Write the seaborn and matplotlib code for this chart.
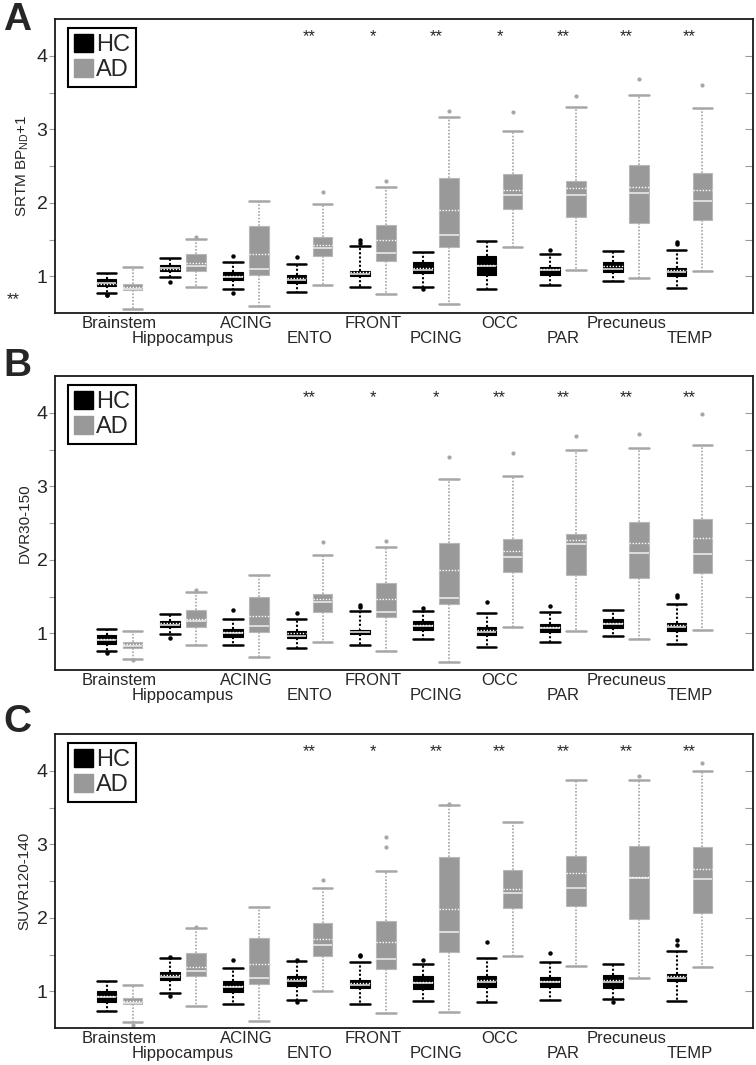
import matplotlib

matplotlib.use("Agg")

import matplotlib.pyplot as plt
from matplotlib.patches import Patch
import seaborn as sns


sns.set_style("white")
plt.rcParams["font.family"] = ["Liberation Sans", "DejaVu Sans"]
plt.rcParams["mathtext.fontset"] = "custom"
plt.rcParams["mathtext.rm"] = "Liberation Sans"
plt.rcParams["mathtext.it"] = "Liberation Sans:italic"

REGIONS = ["Brainstem", "Hippocampus", "ACING", "ENTO", "FRONT",
           "PCING", "OCC", "PAR", "Precuneus", "TEMP"]

# each row: (whisker low, q1, median, mean, q3, whisker high)
SRTM_HC = [(0.77, 0.87, 0.91, 0.89, 0.965, 1.045),
           (0.985, 1.075, 1.11, 1.10, 1.15, 1.25),
           (0.82, 0.945, 0.99, 1.01, 1.055, 1.20),
           (0.78, 0.91, 0.955, 0.975, 1.02, 1.17),
           (0.855, 1.01, 1.03, 1.055, 1.07, 1.41),
           (0.86, 1.045, 1.08, 1.11, 1.19, 1.33),
           (0.83, 1.02, 1.136, 1.16, 1.277, 1.48),
           (0.886, 1.018, 1.08, 1.10, 1.13, 1.30),
           (0.93, 1.055, 1.10, 1.136, 1.19, 1.35),
           (0.836, 1.01, 1.055, 1.09, 1.114, 1.355)]
SRTM_HC_FLIERS = [[0.75, 0.745], [0.92], [1.28, 0.77], [1.26], [1.50, 1.45],
                  [0.83], [], [1.36], [], [1.46, 1.445]]
SRTM_AD = [(0.555, 0.81, 0.82, 0.855, 0.895, 1.12),
           (0.855, 1.07, 1.135, 1.18, 1.305, 1.51),
           (0.59, 1.02, 1.10, 1.30, 1.68, 2.02),
           (0.886, 1.28, 1.386, 1.43, 1.536, 1.98),
           (0.755, 1.205, 1.31, 1.49, 1.695, 2.22),
           (0.627, 1.40, 1.565, 1.90, 2.34, 3.17),
           (1.40, 1.92, 2.11, 2.18, 2.386, 2.97),
           (1.08, 1.81, 2.10, 2.195, 2.30, 3.30),
           (0.977, 1.72, 2.136, 2.21, 2.52, 3.46),
           (1.07, 1.77, 2.02, 2.18, 2.41, 3.295)]
SRTM_AD_FLIERS = [[], [1.54], [], [2.14], [2.30], [3.25], [3.236], [3.45],
                  [3.69], [3.60]]

DVR_HC = [(0.76, 0.86, 0.91, 0.927, 0.97, 1.055),
          (0.986, 1.08, 1.11, 1.136, 1.16, 1.264),
          (0.84, 0.955, 1.00, 1.02, 1.055, 1.20),
          (0.795, 0.93, 0.968, 1.00, 1.03, 1.195),
          (0.84, 0.995, 1.02, 1.07, 1.05, 1.305),
          (0.918, 1.045, 1.10, 1.11, 1.16, 1.305),
          (0.818, 0.977, 1.023, 1.045, 1.09, 1.277),
          (0.88, 1.014, 1.068, 1.08, 1.127, 1.29),
          (0.964, 1.068, 1.127, 1.145, 1.20, 1.31),
          (0.855, 1.036, 1.08, 1.114, 1.145, 1.40)]
DVR_HC_FLIERS = [[0.736], [0.93], [1.31], [1.28], [1.386, 1.355], [1.35],
                 [1.43], [1.373], [], [1.52, 1.49]]
DVR_AD = [(0.65, 0.80, 0.827, 0.855, 0.886, 1.036),
          (0.84, 1.09, 1.16, 1.19, 1.318, 1.555),
          (0.68, 1.02, 1.10, 1.24, 1.49, 1.795),
          (0.877, 1.295, 1.43, 1.46, 1.53, 2.06),
          (0.764, 1.218, 1.295, 1.47, 1.68, 2.18),
          (0.61, 1.395, 1.486, 1.855, 2.227, 3.10),
          (1.09, 1.83, 2.036, 2.12, 2.28, 3.145),
          (1.036, 1.786, 2.21, 2.264, 2.355, 3.50),
          (0.927, 1.755, 2.09, 2.227, 2.51, 3.52),
          (1.045, 1.818, 2.077, 2.295, 2.555, 3.56)]
DVR_AD_FLIERS = [[0.636], [1.59], [], [2.236], [2.26], [3.40], [3.45], [3.68],
                 [3.71], [3.98]]

SUVR_HC = [(0.736, 0.86, 0.927, 0.94, 1.00, 1.136),
           (0.977, 1.155, 1.20, 1.227, 1.26, 1.45),
           (0.827, 0.995, 1.064, 1.077, 1.136, 1.32),
           (0.886, 1.077, 1.145, 1.168, 1.214, 1.41),
           (0.827, 1.045, 1.09, 1.11, 1.155, 1.405),
           (0.87, 1.03, 1.118, 1.13, 1.214, 1.377),
           (0.85, 1.064, 1.123, 1.155, 1.214, 1.455),
           (0.88, 1.055, 1.123, 1.145, 1.20, 1.395),
           (0.895, 1.045, 1.123, 1.155, 1.227, 1.377),
           (0.873, 1.136, 1.177, 1.214, 1.236, 1.545)]
SUVR_HC_FLIERS = [[], [1.46, 0.94], [1.42], [1.427, 0.85], [1.50, 1.477],
                  [1.43], [1.67], [1.52], [0.86], [1.70, 1.636]]
SUVR_AD = [(0.577, 0.827, 0.836, 0.873, 0.91, 1.09),
           (0.80, 1.214, 1.273, 1.327, 1.52, 1.86),
           (0.59, 1.10, 1.177, 1.373, 1.727, 2.145),
           (1.01, 1.486, 1.63, 1.705, 1.927, 2.40),
           (0.705, 1.305, 1.44, 1.673, 1.95, 2.64),
           (0.714, 1.53, 1.81, 2.123, 2.827, 3.53),
           (1.48, 2.127, 2.34, 2.395, 2.645, 3.30),
           (1.34, 2.164, 2.40, 2.61, 2.845, 3.87),
           (1.18, 1.986, 2.54, 2.555, 2.98, 3.877),
           (1.336, 2.07, 2.527, 2.66, 2.97, 4.00)]
SUVR_AD_FLIERS = [[0.545], [1.873], [], [2.52], [3.10, 2.97], [3.55], [], [],
                  [3.93], [4.11]]

STARS_A = ["", "", "", "**", "*", "**", "*", "**", "**", "**"]
STARS_B = ["", "", "", "**", "*", "*", "**", "**", "**", "**"]
STARS_C = ["", "", "", "**", "*", "**", "**", "**", "**", "**"]

PANEL_LETTERS = ["A", "B", "C"]
Y_LABELS = ["SRTM BP$_{\\mathrm{ND}}$+1", "DVR30-150", "SUVR120-140"]

HC_COLOR = "black"
AD_COLOR = "#999999"


def to_stats(rows, fliers):
    return [dict(whislo=r[0], q1=r[1], med=r[2], mean=r[3], q3=r[4],
                 whishi=r[5], fliers=f) for r, f in zip(rows, fliers)]


def draw_group(ax, rows, fliers, offset, face, edge, line, lw_whisk, msize):
    positions = [i + offset for i in range(len(rows))]
    ax.bxp(
        to_stats(rows, fliers),
        positions=positions,
        widths=0.31,
        capwidths=0.31,
        patch_artist=True,
        showmeans=True,
        meanline=True,
        manage_ticks=False,
        boxprops=dict(facecolor=face, edgecolor=edge, linewidth=0.8),
        medianprops=dict(color="#f0f0f0", linewidth=1.1),
        meanprops=dict(color="white", linestyle=(0, (1, 1.2)), linewidth=1.0),
        whiskerprops=dict(color=line, linestyle=(0, (1, 1)), linewidth=lw_whisk),
        capprops=dict(color=line, linewidth=1.8),
        flierprops=dict(marker="o", markersize=msize, markerfacecolor=line,
                        markeredgecolor=line),
    )


def draw_panel(ax, hc, hc_fliers, ad, ad_fliers, stars, ylabel, star_y):
    draw_group(ax, hc, hc_fliers, -0.205, HC_COLOR, HC_COLOR, HC_COLOR, 1.5, 2.2)
    draw_group(ax, ad, ad_fliers, 0.205, AD_COLOR, "#b8b8b8", "#a6a6a6", 1.2, 2.0)

    ax.set_xlim(-1.02, 10.0)
    ax.set_ylim(0.5, 4.5)

    ax.set_yticks([1, 2, 3, 4])
    ax.set_yticks([1.5, 2.5, 3.5], minor=True)
    ax.tick_params(axis="y", which="both", left=True, direction="out",
                   length=4.5, width=0.8, color="#9a9a9a", pad=1,
                   labelsize=14)
    right = ax.secondary_yaxis("right")
    right.set_yticks([1, 1.5, 2, 2.5, 3, 3.5, 4])
    right.tick_params(axis="y", which="both", right=True, direction="in",
                      length=6, width=0.8, color="#9a9a9a", labelright=False)
    right.spines["right"].set_visible(False)

    ax.set_xticks(range(0, 10, 2), labels=REGIONS[0::2])
    ax.set_xticks(range(1, 10, 2), labels=REGIONS[1::2], minor=True)
    ax.tick_params(axis="x", which="both", length=0, labelsize=12)
    ax.tick_params(axis="x", which="major", pad=2)
    ax.tick_params(axis="x", which="minor", pad=13)

    for spine in ax.spines.values():
        spine.set_visible(True)
        spine.set_color("#1a1a1a")
        spine.set_linewidth(1.3)

    ax.set_ylabel(ylabel, fontsize=11)
    ax.yaxis.set_label_coords(-0.034, 0.5)

    for i, s in enumerate(stars):
        if s:
            ax.text(i, star_y, s, ha="center", va="baseline", fontsize=12)

    handles = [Patch(facecolor=HC_COLOR, edgecolor=HC_COLOR),
               Patch(facecolor=AD_COLOR, edgecolor=AD_COLOR)]
    leg = ax.legend(handles, ["HC", "AD"], loc="upper left",
                    bbox_to_anchor=(0.0186, 0.969), borderaxespad=0,
                    fontsize=17, frameon=True, fancybox=False,
                    edgecolor="black", framealpha=1, handlelength=0.8,
                    handleheight=0.8, handletextpad=0.15, labelspacing=0.12,
                    borderpad=0.25)
    leg.get_frame().set_linewidth(1.5)


def main():
    fig = plt.figure(figsize=(7.56, 10.65), dpi=100)
    bottoms = [0.7061, 0.3709, 0.0347]
    panels = [
        (SRTM_HC, SRTM_HC_FLIERS, SRTM_AD, SRTM_AD_FLIERS, STARS_A, 4.20),
        (DVR_HC, DVR_HC_FLIERS, DVR_AD, DVR_AD_FLIERS, STARS_B, 4.145),
        (SUVR_HC, SUVR_HC_FLIERS, SUVR_AD, SUVR_AD_FLIERS, STARS_C, 4.20),
    ]
    letter_y = [0.9718, 0.647, 0.313]

    for k, (hc, hcf, ad, adf, stars, sy) in enumerate(panels):
        ax = fig.add_axes([0.0728, bottoms[k], 0.923, 0.276])
        draw_panel(ax, hc, hcf, ad, adf, stars, Y_LABELS[k], sy)
        fig.text(0.004, letter_y[k], PANEL_LETTERS[k], fontsize=28,
                 fontweight="bold", va="baseline", ha="left")

    # stray significance mark at the left of panel A
    fig.text(0.009, 0.7146, "**", fontsize=12, va="baseline", ha="left")

    fig.savefig("out.png", dpi=100)
    plt.close(fig)


if __name__ == "__main__":
    main()
